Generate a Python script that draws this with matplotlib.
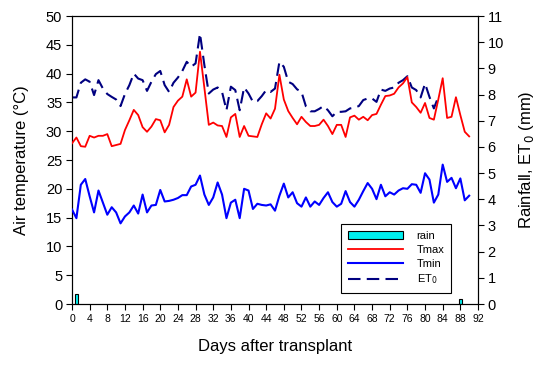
import matplotlib
matplotlib.use("Agg")
import matplotlib.pyplot as plt
import numpy as np
from matplotlib.patches import Patch
from matplotlib.lines import Line2D

plt.rcParams['font.family'] = ['Liberation Sans', 'DejaVu Sans']

tmax = [27.9, 28.9, 27.4, 27.3, 29.2, 28.9, 29.2, 29.2, 29.5, 27.4,
        27.6, 27.8, 30.2, 31.9, 33.7, 32.8, 30.7, 29.9, 30.8, 32.1,
        31.9, 29.8, 31.1, 34.2, 35.3, 36.0, 39.0, 36.0, 36.7, 43.8,
        37.5, 31.1, 31.5, 31.0, 30.9, 29.0, 32.4, 33.0, 29.0, 30.9,
        29.2, 29.1, 29.0, 31.2, 33.1, 32.2, 33.9, 39.8, 35.5, 33.5,
        32.3, 31.2, 32.5, 31.6, 30.9, 30.9, 31.1, 32.0, 30.9, 29.5,
        31.1, 31.1, 29.0, 32.4, 32.7, 32.0, 32.5, 31.9, 32.8, 33.0,
        34.6, 36.1, 36.2, 36.5, 37.6, 38.3, 39.4, 35.0, 34.2, 33.2,
        34.9, 32.3, 32.0, 35.5, 39.2, 32.3, 32.5, 35.9, 32.8, 29.9,
        29.1]
tmin = [16.4, 14.9, 20.7, 21.7, 18.7, 15.9, 19.7, 17.6, 15.5, 16.8,
        15.9, 14.0, 15.2, 15.9, 17.1, 15.7, 19.0, 15.9, 17.1, 17.2,
        19.8, 17.8, 17.9, 18.1, 18.4, 18.9, 18.9, 20.4, 20.7, 22.3,
        19.0, 17.2, 18.5, 21.1, 19.0, 14.9, 17.6, 18.1, 14.9, 20.0,
        19.7, 16.5, 17.4, 17.2, 17.1, 17.3, 16.2, 18.8, 20.9, 18.5,
        19.4, 17.5, 16.9, 18.5, 16.9, 17.8, 17.2, 18.4, 19.4, 17.7,
        16.9, 17.4, 19.6, 17.7, 16.9, 18.1, 19.6, 21.0, 20.0, 18.2,
        20.7, 18.7, 19.4, 19.0, 19.7, 20.1, 20.0, 20.8, 20.7, 19.3,
        22.7, 21.6, 17.6, 19.0, 24.2, 21.2, 21.9, 20.1, 21.8, 18.0,
        18.8]
et0 = [7.89, 7.89, 8.45, 8.58, 8.49, 7.98, 8.55, 8.23, 8.02, 7.91,
       7.81, 7.56, 8.02, 8.36, 8.80, 8.61, 8.55, 8.14, 8.49, 8.78,
       8.90, 8.36, 8.10, 8.45, 8.65, 8.90, 9.25, 9.06, 9.19, 10.33,
       9.12, 8.04, 8.19, 8.27, 8.10, 7.40, 8.30, 8.17, 7.40, 8.27,
       8.04, 7.72, 7.75, 7.94, 8.17, 8.10, 8.23, 9.25, 9.06, 8.49,
       8.40, 8.20, 8.10, 7.55, 7.36, 7.36, 7.45, 7.56, 7.40, 7.17,
       7.34, 7.34, 7.36, 7.47, 7.50, 7.56, 7.79, 7.85, 7.85, 7.72,
       8.19, 8.14, 8.23, 8.27, 8.45, 8.55, 8.70, 8.27, 8.17, 7.89,
       8.42, 7.91, 7.47, 7.91]
rain_days = [1, 88]
rain = [0.4, 0.2]

days_t = np.arange(len(tmax))
days_et = np.arange(len(et0))

fig = plt.figure(figsize=(5.5, 3.66), dpi=100)
ax = fig.add_axes([72/550, 1-304/366, 406/550, 288/366])
ax2 = ax.twinx()

ax2.bar(rain_days, rain, width=0.7, color='#00F0F0', edgecolor='black',
        linewidth=0.8, zorder=2)
ax2.plot(days_et, et0, color='#000080', lw=1.5, dashes=(6, 3), zorder=3)
ax.plot(days_t, tmax, color='#FF0000', lw=1.3, zorder=3)
ax.plot(days_t, tmin, color='#0000FF', lw=1.5, zorder=3)

ax.set_zorder(ax2.get_zorder() + 1)
ax.patch.set_visible(False)

ax.set_xlim(0, 92)
ax.set_ylim(0, 50)
ax2.set_ylim(0, 11)
ax.set_xticks(np.arange(0, 93, 4))
ax.set_yticks(np.arange(0, 51, 5))
ax2.set_yticks(np.arange(0, 12, 1))
ax.tick_params(axis='x', direction='out', labelsize=7.5, length=4, width=0.8, pad=3)
ax.tick_params(axis='y', direction='out', labelsize=10.5, length=4, width=0.8, pad=3)
ax2.tick_params(axis='y', direction='out', labelsize=10.5, length=4, width=0.8, pad=3)
for a in (ax, ax2):
    for s in a.spines.values():
        s.set_linewidth(0.8)

ax.set_xlabel('Days after transplant', fontsize=12, labelpad=11)
ax.set_ylabel('Air temperature (°C)', fontsize=12, labelpad=12)
ax2.set_ylabel('Rainfall, ET$_0$ (mm)', fontsize=12, labelpad=9)

handles = [Patch(facecolor='#00F0F0', edgecolor='black', linewidth=0.8),
           Line2D([], [], color='#FF0000', lw=1.3),
           Line2D([], [], color='#0000FF', lw=1.5),
           Line2D([], [], color='#000080', lw=1.5, dashes=(6, 3))]
labels = ['rain', 'Tmax', 'Tmin', 'ET$_0$']
leg = ax.legend(handles, labels, loc='lower left', bbox_to_anchor=(0.663, 0.038),
                fontsize=8, frameon=True, fancybox=False, edgecolor='black',
                handlelength=5.0, handleheight=0.7, handletextpad=1.2,
                labelspacing=0.35, borderpad=0.6, borderaxespad=0)
leg.get_frame().set_linewidth(0.8)
leg.get_frame().set_alpha(1)

fig.savefig('out.png', dpi=100)
